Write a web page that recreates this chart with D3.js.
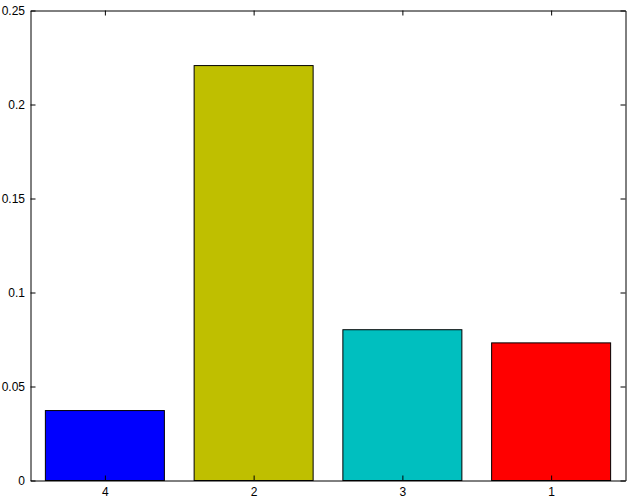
<!DOCTYPE html>
<html><head><meta charset="utf-8">
<script src="https://cdn.jsdelivr.net/npm/d3@7"></script>
<style>body{margin:0;background:#fff}svg{display:block}text{font-family:"Liberation Sans",Arial,Helvetica,sans-serif;font-size:12px;fill:#000}</style>
</head><body>
<script>
const categories = ["4", "2", "3", "1"];
const values = [0.0372, 0.2207, 0.0802, 0.0732];
const colors = ["#0000ff", "#bfbf00", "#00bfbf", "#ff0000"];
const yTicks = [0, 0.05, 0.1, 0.15, 0.2, 0.25];

const W = 630, H = 500;
const m = {left: 30.5, top: 10.5, right: 4.5, bottom: 19.5};
const svg = d3.select("body").append("svg").attr("width", W).attr("height", H);
const x = d3.scaleLinear().domain([0.5, 4.5]).range([m.left, W - m.right]);
const y = d3.scaleLinear().domain([0, 0.25]).range([H - m.bottom, m.top]);
const bw = 0.8;

svg.selectAll("rect.bar").data(values).enter().append("rect")
  .attr("class", "bar")
  .attr("x", (d, i) => x(i + 1 - bw / 2))
  .attr("width", (d, i) => x(i + 1 + bw / 2) - x(i + 1 - bw / 2))
  .attr("y", d => y(d))
  .attr("height", d => y(0) - y(d))
  .attr("fill", (d, i) => colors[i])
  .attr("stroke", "#000").attr("stroke-width", 1);

const tl = 5;
const gl = svg.append("g").attr("transform", `translate(${m.left},0)`)
  .call(d3.axisLeft(y).tickValues(yTicks).tickFormat(d3.format("~g")).tickSizeInner(-tl).tickSizeOuter(0).tickPadding(5.5));
const gr = svg.append("g").attr("transform", `translate(${W - m.right},0)`)
  .call(d3.axisRight(y).tickValues(yTicks).tickFormat("").tickSizeInner(-tl).tickSizeOuter(0));
const gb = svg.append("g").attr("transform", `translate(0,${H - m.bottom})`)
  .call(d3.axisBottom(x).tickValues([1, 2, 3, 4]).tickFormat((d) => categories[d - 1]).tickSizeInner(-tl).tickSizeOuter(0).tickPadding(7));
const gt = svg.append("g").attr("transform", `translate(0,${m.top})`)
  .call(d3.axisTop(x).tickValues([1, 2, 3, 4]).tickFormat("").tickSizeInner(-tl).tickSizeOuter(0));
[gl, gr, gb, gt].forEach(g => {
  g.selectAll("path.domain").attr("stroke", "#000");
  g.selectAll(".tick line").attr("stroke", "#000");
  g.selectAll("text").attr("font-size", "12px").attr("font-family", '"Liberation Sans",Arial,sans-serif').attr("fill", "#000");
});
</script>
</body></html>
